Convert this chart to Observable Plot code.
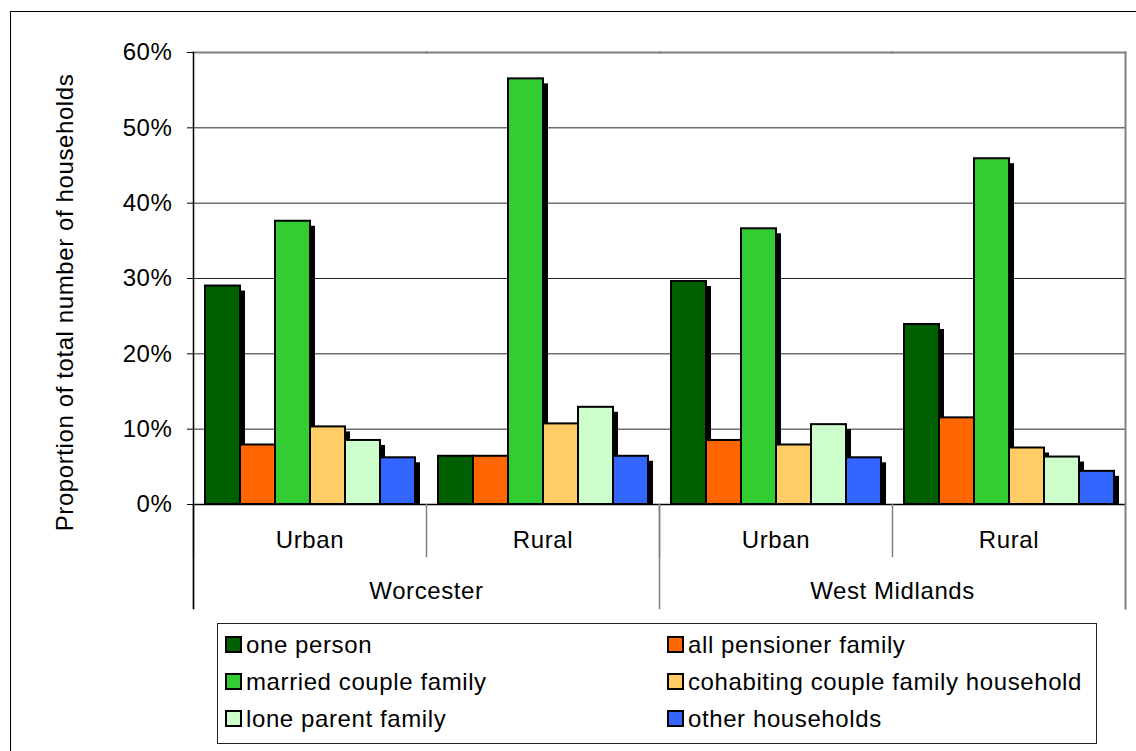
<!DOCTYPE html>
<html>
<head>
<meta charset="utf-8">
<script src="https://cdn.jsdelivr.net/npm/d3@7"></script>
<script src="https://cdn.jsdelivr.net/npm/@observablehq/plot@0.6"></script>
<style>
  html, body { margin: 0; padding: 0; background: #fff; }
  body { width: 1136px; height: 751px; position: relative; overflow: hidden; font-family: "Liberation Sans", Arial, sans-serif; }
  #outer { position: absolute; left: 10px; top: 11px; width: 1200px; height: 800px; border: 1.5px solid #000; }
  #chart { position: absolute; left: 0; top: 0; }
  #legend { position: absolute; left: 217px; top: 623px; width: 880px; height: 121px; border: 1.5px solid #222; box-sizing: border-box;
            display: grid; grid-template-columns: 442px auto; grid-auto-rows: 37px; padding: 2px 0 0 7px; font-size: 24px; letter-spacing: 0.6px; }
  .item { display: flex; align-items: center; white-space: nowrap; }
  .sw { width: 13px; height: 13px; border: 2px solid #000; margin-right: 4px; flex: none; }
</style>
</head>
<body>
<div id="outer"></div>
<div id="chart"></div>
<div id="legend"></div>
<script>
// ---- data ----
const regions = ["Worcester", "Worcester", "West Midlands", "West Midlands"];
const areas = ["Urban", "Rural", "Urban", "Rural"];
const series = ["one person", "all pensioner family", "married couple family", "cohabiting couple family household", "lone parent family", "other households"];
const colors = ["#006000", "#ff6600", "#33cc33", "#ffcc66", "#ccffcc", "#3366ff"];
const onePerson = [29.0, 6.4, 29.6, 23.9];
const allPensioner = [7.9, 6.4, 8.5, 11.5];
const marriedCouple = [37.6, 56.5, 36.6, 45.9];
const cohabitingCouple = [10.3, 10.7, 7.9, 7.5];
const loneParent = [8.5, 12.9, 10.6, 6.3];
const otherHouseholds = [6.2, 6.4, 6.2, 4.4];
const yTicks = [0, 0.1, 0.2, 0.3, 0.4, 0.5, 0.6];
const yTitle = "Proportion of total number of households";

const seriesValues = [onePerson, allPensioner, marriedCouple, cohabitingCouple, loneParent, otherHouseholds];
const keys = regions.map((r, i) => r + "|" + areas[i]);
const data = keys.flatMap((k, gi) => series.map((s, si) => ({key: k, series: s, value: seriesValues[si][gi] / 100})));
const cells = keys.map((k, i) => ({key: k, area: areas[i]}));
const parents = [...new Set(regions)].map(r => ({name: r, firstKey: keys[regions.indexOf(r)]}));

const W = 1136, H = 614, mT = 52, mB = 110, mL = 192, mR = 10;
const plotH = H - mT - mB;
const gray = "#808080";

const chart = Plot.plot({
  width: W, height: H,
  marginTop: mT, marginBottom: mB, marginLeft: mL, marginRight: mR,
  style: {fontFamily: "'Liberation Sans', Arial, sans-serif", fontSize: "24px", color: "#000", background: "transparent", overflow: "visible", letterSpacing: "0.6px"},
  fx: {domain: keys, padding: 0, axis: null},
  x: {domain: series, paddingInner: 0, paddingOuter: 0.24, axis: null},
  y: {domain: [0, 0.6], axis: null},
  color: {domain: series, range: colors},
  marks: [
    Plot.gridY(yTicks, {stroke: "#000", strokeOpacity: 0.85, strokeWidth: 1}),
    Plot.frame({anchor: "top", stroke: gray, strokeWidth: 2}),
    // shadows
    Plot.barY(data, {fx: "key", x: "series", y: "value", fill: "#000", dx: 5, dy: 5, clip: true}),
    // bars
    Plot.barY(data, {fx: "key", x: "series", y: "value", fill: "series", stroke: "#000", strokeWidth: 2}),
    Plot.ruleY([0], {stroke: "#000", strokeWidth: 1.5}),
    // category separators
    Plot.frame({anchor: "left", insetTop: plotH, insetBottom: -52, stroke: gray, strokeWidth: 1.5}),
    ...parents.map(p => Plot.frame({fx: p.firstKey, anchor: "left", insetTop: plotH, insetBottom: -104, stroke: gray, strokeWidth: 1.5})),
    Plot.frame({facetAnchor: "right", anchor: "right", insetBottom: -104, stroke: gray, strokeWidth: 2}),
    Plot.frame({fx: keys[0], anchor: "left", insetBottom: -104, stroke: "#000", strokeWidth: 1.5}),
    Plot.axisY({ticks: yTicks, tickFormat: d => Math.round(d * 100) + "%", tickSize: 6, tickPadding: 15, fontSize: 24, label: null}),
    Plot.text([yTitle], {facetAnchor: "left", text: d => d, frameAnchor: "left", rotate: -90, dx: -128, dy: 24, lineAnchor: "middle", textAnchor: "middle", fontSize: 24}),
    Plot.text(cells, {fx: "key", text: "area", frameAnchor: "bottom", dy: 36, lineAnchor: "middle", fontSize: 24}),
    Plot.text(parents, {fx: "firstKey", text: "name", frameAnchor: "bottom-right", textAnchor: "middle", dy: 87, lineAnchor: "middle", fontSize: 24})
  ]
});
document.getElementById("chart").appendChild(chart);

// legend: row-major, two columns (left: items 0,2,4; right: items 1,3,5)
const legend = document.getElementById("legend");
series.forEach((s, i) => {
  const it = document.createElement("div");
  it.className = "item";
  const sw = document.createElement("span");
  sw.className = "sw";
  sw.style.background = colors[i];
  it.appendChild(sw);
  it.appendChild(document.createTextNode(s));
  legend.appendChild(it);
});
</script>
</body>
</html>
